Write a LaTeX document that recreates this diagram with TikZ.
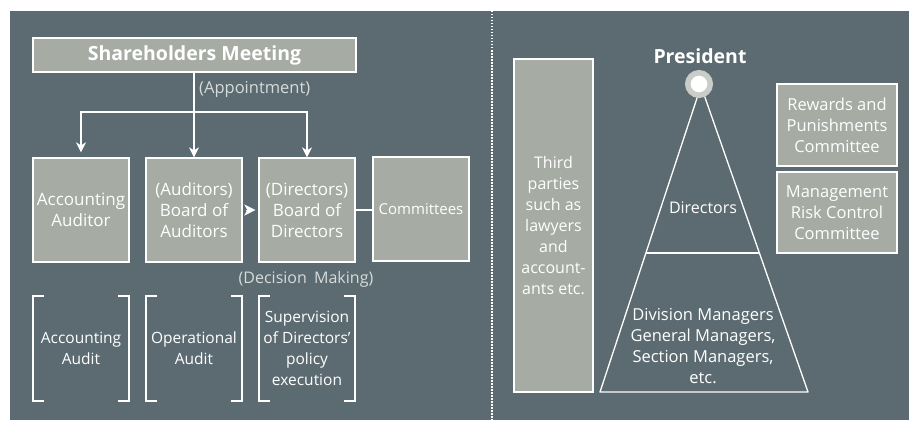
\documentclass[tikz,border=0pt]{standalone}
\usepackage{fontspec}
\setmainfont{Open Sans}
\usetikzlibrary{arrows.meta,calc}
\definecolor{slate}{RGB}{91,107,113}
\definecolor{boxgrey}{RGB}{166,171,163}
\definecolor{ringgrey}{RGB}{201,204,199}
\definecolor{softtext}{RGB}{214,219,219}
\newcommand{\sz}[1]{\fontsize{#1}{21}\selectfont}
\tikzset{
  body/.style={font=\sz{16.5}, text=white, align=center},
  panel/.style={body, draw=white, line width=1.3pt, fill=boxgrey, inner sep=0pt},
  plain/.style={body, inner sep=0pt},
  headline/.style={font=\bfseries\fontsize{19.5}{24}\selectfont, text=white},
  link/.style={draw=white, line width=1.3pt},
  arr/.style={link, -{Stealth[length=10pt,width=10pt,inset=3pt]}},
  brk/.style={draw=white, line width=1.8pt},
  organ/.style={panel, minimum width=96pt, minimum height=104pt, font=\sz{17}},
  duty/.style={plain, minimum width=96pt, minimum height=105pt, font=\sz{15.5}},
}
\begin{document}
\begin{tikzpicture}[x=1pt,y=-1pt]
  \useasboundingbox (0,0) rectangle (909,420);
  \fill[white] (0,0) rectangle (909,420);
  \fill[slate] (10,11) rectangle (909,420);

  % ---------- governance side ----------
  \node[panel, headline, minimum width=323pt, minimum height=34pt] (sm) at (194.5,55) {Shareholders Meeting};
  \node[plain, text=softtext, anchor=west] (apl) at (199,89) {(Appointment)};

  \node[organ] (aa) at (81,210) {Accounting\\Auditor};
  \node[organ] (ba) at (194,210) {(Auditors)\\Board of\\Auditors};
  \node[organ] (bd) at (307,210) {(Directors)\\Board of\\Directors};
  \node[organ, font=\sz{15}] (cm) at (421,209) {Committees};

  \coordinate (split) at (194,112);
  \draw[arr] (sm.south -| ba.north) -- (ba.north);
  \draw[arr] (split) -| ([yshift=5pt]aa.north);
  \draw[arr] (split) -| (bd.north);
  \draw[white, line width=0.1pt, -{Stealth[length=11pt,width=11pt,inset=3pt]}]
    ([xshift=3pt]ba.east) -- ([xshift=-3pt]bd.west);
  \draw[link] (bd.east) -- (bd.east -| cm.west);

  \node[plain, text=softtext, font=\sz{16}] (dml) at (306,279) {(Decision\hspace{.45em}Making)};

  \node[duty] (ab) at (81,348.5) {Accounting\\Audit};
  \node[duty] (oa) at (194,348.5) {Operational\\Audit};
  \node[duty] (sd) at (307,348.5) {Supervision\\of Directors'\\policy\\execution};
  \foreach \n in {ab,oa,sd} {
    \draw[brk] ([xshift=11pt]\n.north west) -- (\n.north west) -- (\n.south west) -- ([xshift=11pt]\n.south west);
    \draw[brk] ([xshift=-11pt]\n.north east) -- (\n.north east) -- (\n.south east) -- ([xshift=-11pt]\n.south east);
  }

  % ---------- divider ----------
  \coordinate (dtop) at (492,11);
  \coordinate (dbot) at (492,420);
  \draw[white, line width=1.2pt, dash pattern=on 1.5pt off 1.5pt] (dtop) -- (dbot);

  % ---------- executive side ----------
  \node[panel, minimum width=79pt, minimum height=333pt, font=\sz{16}] (tp) at (553.5,225.5)
    {Third\\parties\\such as\\lawyers\\and\\account-\\ants etc.};

  \coordinate (apex) at (701,86);
  \coordinate (bl) at (600,392);
  \coordinate (br) at (808,392);
  \draw[link, line join=round] (bl) -- (apex) -- (br) -- cycle;
  \draw[link] ($(apex)!0.5458!(bl)$) -- ($(apex)!0.5458!(br)$);
  \node[circle, draw=ringgrey, line width=5.5pt, fill=white, minimum size=22.5pt, inner sep=0pt] (pres) at (699,84) {};
  \node[headline] (ptitle) at (700,56) {President};

  \node[plain, font=\sz{16}] (dir) at (703,208) {Directors};
  \node[plain] (mgr) at (703,346) {Division Managers\\General Managers,\\Section Managers,\\etc.};

  \node[panel, minimum width=120pt, minimum height=82pt] (rp) at (837,125) {Rewards and\\Punishments\\Committee};
  \node[panel, minimum width=120pt, minimum height=81pt] (mr) at (837,212.5) {Management\\Risk Control\\Committee};
\end{tikzpicture}
\end{document}
